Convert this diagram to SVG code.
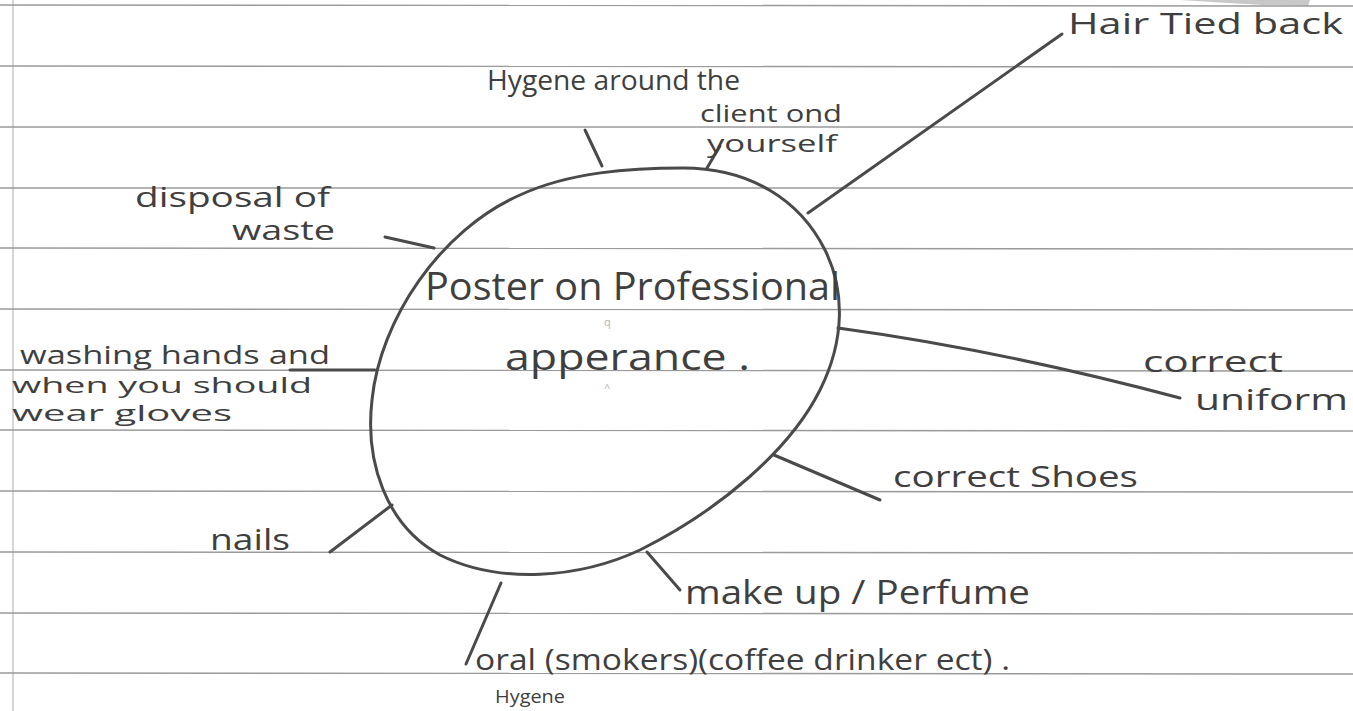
<svg xmlns="http://www.w3.org/2000/svg" width="1353" height="711" viewBox="0 0 1353 711">
<style>
.rule{stroke:#9a9a9a;stroke-width:1.4;fill:none}
.ink{stroke:#4a4a4a;stroke-width:3;fill:none;stroke-linecap:round;stroke-linejoin:round}
.t{font-family:"Open Sans","Liberation Sans",sans-serif;fill:#3f3f3f;font-weight:400}
.faint{font-family:"Open Sans","Liberation Sans",sans-serif;fill:#b5b5b5;font-size:11px}
</style>
<rect width="1353" height="711" fill="#ffffff"/>
<g id="paper">
<line class="rule" x1="13" y1="0" x2="13" y2="711" style="stroke:#c4c4c4"/>
<path d="M1180 0 L1310 0 L1308 6 Q1250 5 1180 0 Z" fill="#c8c8c8"/>
<line class="rule" x1="0" y1="5" x2="1353" y2="6"/>
<line class="rule" x1="0" y1="66" x2="1353" y2="67"/>
<line class="rule" x1="0" y1="127" x2="1353" y2="127"/>
<line class="rule" x1="0" y1="188" x2="1353" y2="188"/>
<line class="rule" x1="0" y1="248" x2="1353" y2="249"/>
<line class="rule" x1="0" y1="309" x2="1353" y2="310"/>
<line class="rule" x1="0" y1="370" x2="1353" y2="371"/>
<line class="rule" x1="0" y1="430" x2="1353" y2="431"/>
<line class="rule" x1="0" y1="491" x2="1353" y2="492"/>
<line class="rule" x1="0" y1="552" x2="1353" y2="553"/>
<line class="rule" x1="0" y1="613" x2="1353" y2="614"/>
<line class="rule" x1="0" y1="673" x2="1353" y2="674"/>
</g>
<g id="connectors">
<line class="ink" x1="808" y1="213" x2="1062" y2="34"/>
<line class="ink" x1="585" y1="130" x2="602" y2="166"/>
<line class="ink" x1="707" y1="168" x2="720" y2="146"/>
<line class="ink" x1="385" y1="237" x2="434" y2="248"/>
<line class="ink" x1="290" y1="370" x2="375" y2="370"/>
<line class="ink" x1="330" y1="552" x2="392" y2="505"/>
<line class="ink" x1="501" y1="583" x2="466" y2="664"/>
<line class="ink" x1="647" y1="552" x2="680" y2="590"/>
<line class="ink" x1="774" y1="455" x2="880" y2="500"/>
<path class="ink" d="M838 328 Q1000 350 1180 398"/>
</g>
<g id="center">
<path class="ink" d="M683 168 C750 168 800 200 825 250 C845 290 845 340 820 390 C790 450 720 510 640 550 C580 578 500 585 440 555 C385 525 365 460 372 400 C380 320 440 230 520 195 C570 172 630 168 683 168 Z"/>
<text class="t" x="425" y="300" font-size="38" textLength="415" lengthAdjust="spacingAndGlyphs">Poster on Professional</text>
<text class="t" x="505" y="370" font-size="36" textLength="245" lengthAdjust="spacingAndGlyphs">apperance .</text>
<text class="faint" x="604" y="326">q</text>
<text class="faint" x="604" y="392">^</text>
</g>
<g id="hair">
<text class="t" x="1068" y="34" font-size="30" textLength="275" lengthAdjust="spacingAndGlyphs">Hair Tied back</text>
</g>
<g id="hygiene-client">
<text class="t" x="487" y="90" font-size="28" textLength="253" lengthAdjust="spacingAndGlyphs">Hygene around the</text>
<text class="t" x="700" y="122" font-size="24" textLength="142" lengthAdjust="spacingAndGlyphs">client ond</text>
<text class="t" x="707" y="152" font-size="23" textLength="130" lengthAdjust="spacingAndGlyphs">yourself</text>
</g>
<g id="disposal">
<text class="t" x="135" y="207" font-size="28" textLength="195" lengthAdjust="spacingAndGlyphs">disposal of</text>
<text class="t" x="232" y="240" font-size="27" textLength="103" lengthAdjust="spacingAndGlyphs">waste</text>
</g>
<g id="washing">
<text class="t" x="20" y="364" font-size="26" textLength="310" lengthAdjust="spacingAndGlyphs">washing hands and</text>
<text class="t" x="12" y="393" font-size="22" textLength="300" lengthAdjust="spacingAndGlyphs">when you should</text>
<text class="t" x="12" y="421" font-size="22" textLength="220" lengthAdjust="spacingAndGlyphs">wear gloves</text>
</g>
<g id="uniform">
<text class="t" x="1143" y="372" font-size="30" textLength="140" lengthAdjust="spacingAndGlyphs">correct</text>
<text class="t" x="1195" y="410" font-size="30" textLength="153" lengthAdjust="spacingAndGlyphs">uniform</text>
</g>
<g id="shoes">
<text class="t" x="893" y="487" font-size="30" textLength="245" lengthAdjust="spacingAndGlyphs">correct Shoes</text>
</g>
<g id="nails">
<text class="t" x="210" y="550" font-size="30" textLength="80" lengthAdjust="spacingAndGlyphs">nails</text>
</g>
<g id="makeup">
<text class="t" x="685" y="604" font-size="32" textLength="345" lengthAdjust="spacingAndGlyphs">make up / Perfume</text>
</g>
<g id="oral">
<text class="t" x="475" y="670" font-size="30" textLength="535" lengthAdjust="spacingAndGlyphs">oral (smokers)(coffee drinker ect) .</text>
<text class="t" x="495" y="703" font-size="18" textLength="70" lengthAdjust="spacingAndGlyphs">Hygene</text>
</g>
</svg>
